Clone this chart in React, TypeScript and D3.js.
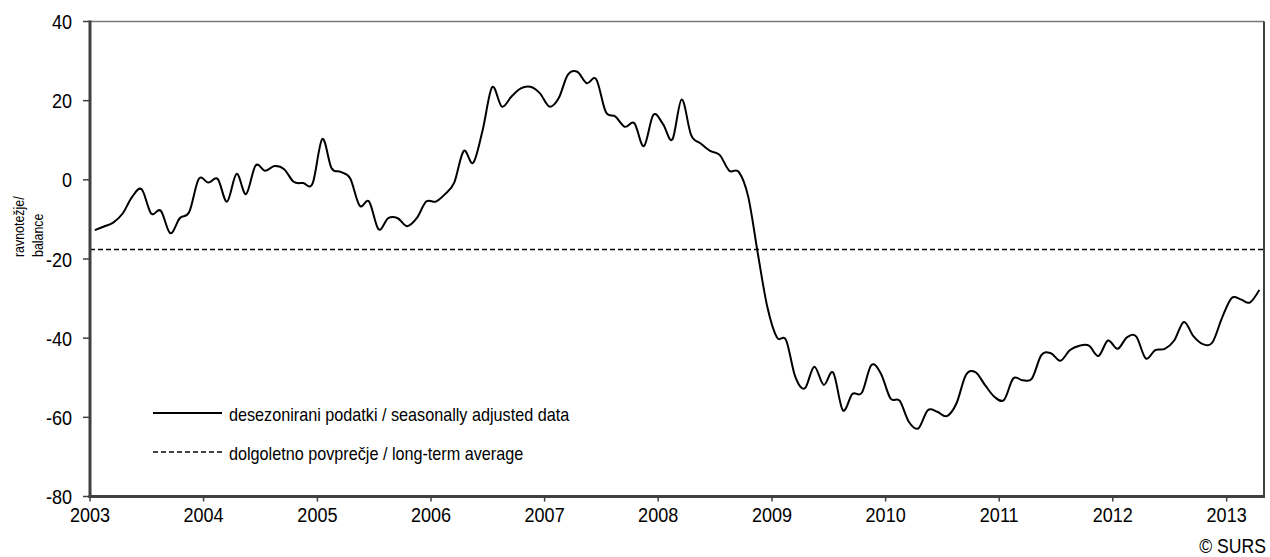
import React from "react";
import * as d3 from "d3";

// monthly balance, Jan 2003 - Apr 2013
const startYear = 2003;
const balance = [
  -12.7, -11.8, -10.8, -8.5, -4.3, -2.4, -8.5, -7.8, -13.5, -9.7, -8.1, 0.2,
  -0.7, 0.2, -5.5, 1.5, -3.6, 3.6, 2.3, 3.5, 2.7, -0.5, -0.8, -0.9,
  10.3, 3.0, 2.0, 0.4, -6.5, -5.5, -12.5, -9.7, -9.7, -11.7, -9.7, -5.5,
  -5.5, -3.6, -0.7, 7.3, 4.3, 12.6, 23.4, 18.5, 21.0, 23.1, 23.5, 21.9,
  18.5, 20.6, 26.5, 27.3, 24.4, 25.4, 17.2, 16.0, 13.4, 14.3, 8.5, 16.4,
  14.1, 10.2, 20.3, 11.3, 9.2, 7.3, 6.3, 2.3, 2.0, -4.3, -18.5, -32.0,
  -39.8, -40.5, -49.7, -52.7, -47.2, -51.8, -48.7, -58.2, -54.1, -53.8, -46.8, -48.9,
  -55.2, -55.8, -61.1, -62.8, -58.2, -58.6, -59.7, -56.5, -49.3, -48.6, -51.8, -54.8,
  -55.6, -50.2, -50.6, -50.2, -44.3, -43.8, -45.7, -43.0, -41.9, -41.9, -44.5, -40.6,
  -42.7, -39.8, -39.6, -45.1, -43.0, -42.7, -40.6, -35.9, -39.5, -41.5, -41.1, -35.0,
  -29.9, -30.2, -31.0, -27.8,
];
const longTermAverage = -17.6;
const yTicks = [40, 20, 0, -20, -40, -60, -80];
const yearTicks = [2003, 2004, 2005, 2006, 2007, 2008, 2009, 2010, 2011, 2012, 2013];
const legendLabels = [
  "desezonirani podatki / seasonally adjusted data",
  "dolgoletno povprečje / long-term average",
];

const W = 1270;
const H = 557;
const plot = { left: 90, right: 1264, top: 21.5, bottom: 496.5 };
const font = "'Liberation Sans', Arial, sans-serif";

// the original uses a narrow face; squeeze the regular one horizontally
const Txt = ({ x, y, size, sx = 0.86, anchor = "start", base, children }: any) => (
  <text
    transform={`translate(${x},${y}) scale(${sx},1)`}
    textAnchor={anchor}
    dominantBaseline={base}
    fontFamily={font}
    fontSize={size}
    fill="#000"
  >
    {children}
  </text>
);

const App = () => {
  const x = d3
    .scaleTime()
    .domain([new Date(startYear, 0, 1), new Date(startYear, balance.length, 1)])
    .range([plot.left, plot.right]);
  const y = d3.scaleLinear().domain([-80, 40]).range([plot.bottom, plot.top]);

  // each monthly value sits in the middle of its month
  const points = balance.map((v, i) => {
    const a = x(new Date(startYear, i, 1));
    const b = x(new Date(startYear, i + 1, 1));
    return [(a + b) / 2, y(v)] as [number, number];
  });

  const line = d3.line().curve(d3.curveCardinal.tension(0));
  const axisColor = "#404040";

  return (
    <svg width={W} height={H} style={{ display: "block", position: "absolute", left: 0, top: 0 }}>
      <rect width={W} height={H} fill="#fff" />

      {/* frame */}
      <line x1={plot.left} x2={plot.right} y1={plot.top} y2={plot.top} stroke="#777" strokeWidth={1.5} />
      <line x1={plot.right} x2={plot.right} y1={plot.top} y2={plot.bottom} stroke={axisColor} strokeWidth={2} />

      {/* long-term average */}
      <line
        x1={plot.left}
        x2={plot.right}
        y1={y(longTermAverage)}
        y2={y(longTermAverage)}
        stroke="#000"
        strokeWidth={1.5}
        strokeDasharray="5,3"
      />

      <path d={line(points) || ""} fill="none" stroke="#000" strokeWidth={2} strokeLinejoin="round" />

      {/* y axis */}
      <line x1={plot.left} x2={plot.left} y1={plot.top - 1} y2={plot.bottom + 1.5} stroke={axisColor} strokeWidth={3} />
      {yTicks.map(t => (
        <g key={t}>
          <line x1={plot.left - 7} x2={plot.left} y1={y(t)} y2={y(t)} stroke={axisColor} strokeWidth={1.5} />
          <Txt x={72} y={y(t)} size={21} anchor="end" base="central">
            {t}
          </Txt>
        </g>
      ))}

      {/* x axis */}
      <line x1={plot.left - 1.5} x2={plot.right + 1} y1={plot.bottom} y2={plot.bottom} stroke={axisColor} strokeWidth={3} />
      {yearTicks.map(yr => {
        const tx = x(new Date(yr, 0, 1));
        return (
          <g key={yr}>
            <line x1={tx} x2={tx} y1={plot.bottom} y2={plot.bottom + 5} stroke={axisColor} strokeWidth={1.5} />
            <Txt x={tx} y={522} size={21} anchor="middle">
              {yr}
            </Txt>
          </g>
        );
      })}

      {/* y title */}
      <text transform="translate(23.5,257) rotate(-90) scale(0.8,1)" fontFamily={font} fontSize={15.5} fill="#000">
        <tspan x={0} y={0}>ravnotežje/</tspan>
        <tspan x={0} y={20}>balance</tspan>
      </text>

      {/* legend */}
      <line x1={153} x2={222} y1={413} y2={413} stroke="#000" strokeWidth={2} />
      <Txt x={229} y={420.5} size={18} sx={0.9}>
        {legendLabels[0]}
      </Txt>
      <line x1={153} x2={222} y1={452} y2={452} stroke="#000" strokeWidth={1.5} strokeDasharray="5,3" />
      <Txt x={229} y={459.5} size={18} sx={0.9}>
        {legendLabels[1]}
      </Txt>

      <Txt x={1266} y={553} size={21} sx={0.84} anchor="end">
        © SURS
      </Txt>
    </svg>
  );
};

export default App;
